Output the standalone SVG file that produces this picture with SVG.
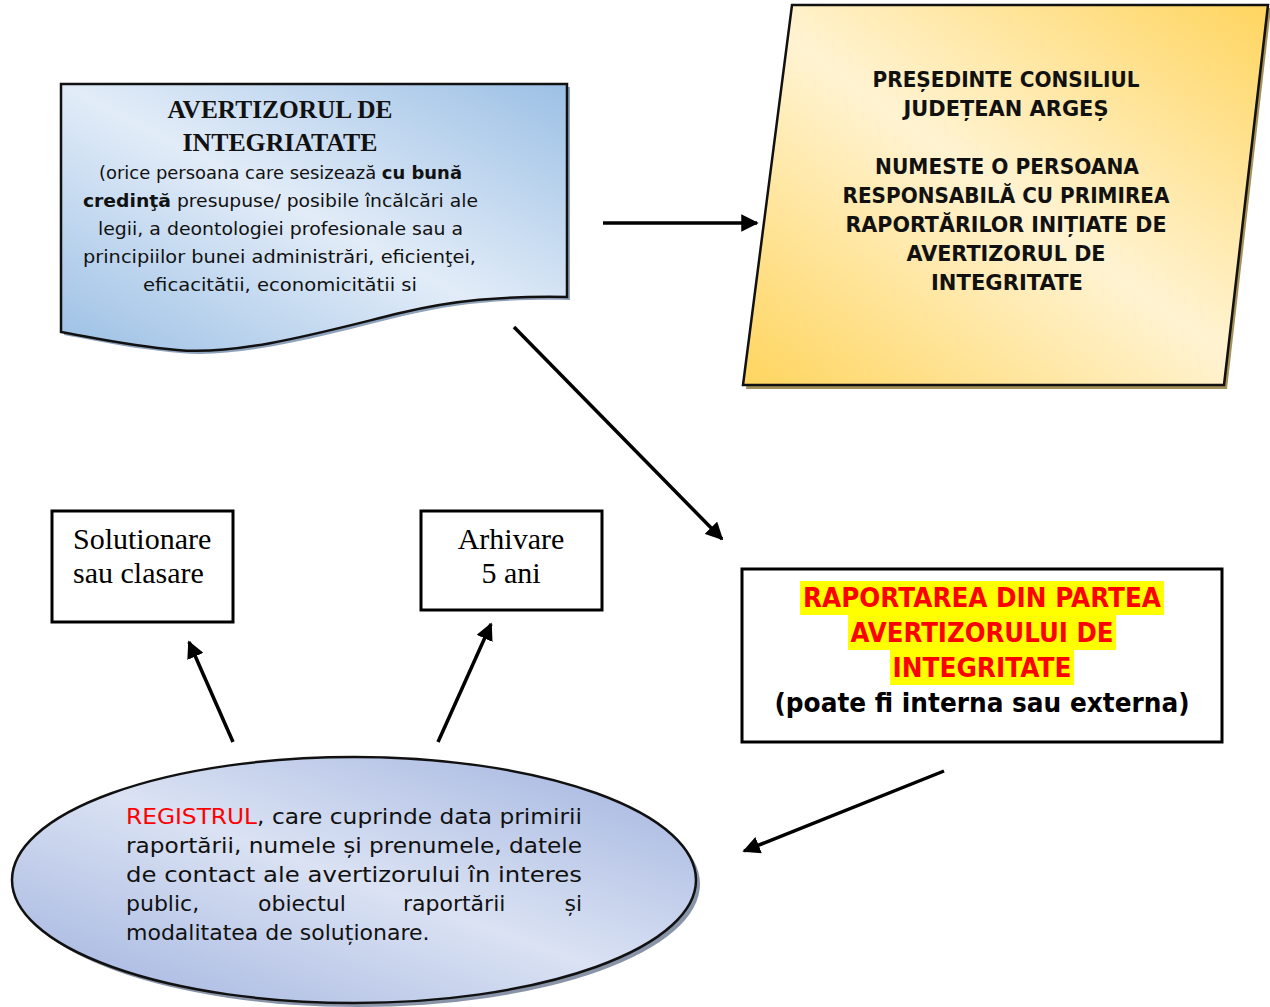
<svg xmlns="http://www.w3.org/2000/svg" width="1270" height="1007" viewBox="0 0 1270 1007">
<style>
.sans{font-family:"DejaVu Sans","Liberation Sans",sans-serif;}
.serif{font-family:"Liberation Serif","Times New Roman",serif;}
.edge{stroke:#111;stroke-width:2.5;}
.box{fill:#fff;stroke:#000;stroke-width:3;}
.conn{stroke:#000;stroke-width:3.5;fill:none;marker-end:url(#ah);}
</style>
<defs>
<marker id="ah" viewBox="0 0 10 10" refX="9" refY="5" markerWidth="5" markerHeight="5" markerUnits="strokeWidth" orient="auto">
<path d="M0,0 L10,5 L0,10 Z" fill="#000"/>
</marker>
<linearGradient id="gBlue" x1="1" y1="0" x2="0" y2="1">
<stop offset="0" stop-color="#9cc0e5"/>
<stop offset="0.5" stop-color="#e2ecf8"/>
<stop offset="1" stop-color="#9cc0e5"/>
</linearGradient>
<linearGradient id="gYel" x1="1" y1="0" x2="0" y2="1">
<stop offset="0" stop-color="#ffd55f"/>
<stop offset="0.5" stop-color="#fff3d2"/>
<stop offset="1" stop-color="#ffd55f"/>
</linearGradient>
<linearGradient id="gEll" x1="1" y1="0" x2="0" y2="1">
<stop offset="0" stop-color="#9fb1de"/>
<stop offset="0.5" stop-color="#dae2f3"/>
<stop offset="1" stop-color="#9fb1de"/>
</linearGradient>
<clipPath id="clipDoc">
<rect x="61" y="84" width="506" height="209"/>
</clipPath>
</defs>

<g id="avertizor">
<path d="M64,87 H570 V300 C503,299 458,303 403,316 C333,333 243,359 180,353 C133,349 98,341 64,335 Z" fill="#8fa3bd"/>
<path class="edge" d="M61,84 H567 V297 C500,296 455,300 400,313 C330,330 240,356 177,350 C130,346 95,338 61,332 Z" fill="url(#gBlue)"/>
<text class="serif" x="280" y="118" font-size="25.5" font-weight="bold" text-anchor="middle" fill="#111" textLength="225" lengthAdjust="spacingAndGlyphs">AVERTIZORUL DE</text>
<text class="serif" x="280" y="151" font-size="25.5" font-weight="bold" text-anchor="middle" fill="#111" textLength="195" lengthAdjust="spacingAndGlyphs">INTEGRIATATE</text>
<g class="sans" font-size="17" fill="#111" clip-path="url(#clipDoc)">
<text x="99" y="179" textLength="363" lengthAdjust="spacingAndGlyphs">(orice persoana care sesizează <tspan font-weight="bold">cu bună</tspan></text>
<text x="83" y="207" textLength="395" lengthAdjust="spacingAndGlyphs"><tspan font-weight="bold">credinţă</tspan> presupuse/ posibile încălcări ale</text>
<text x="98" y="235" textLength="365" lengthAdjust="spacingAndGlyphs">legii, a deontologiei profesionale sau a</text>
<text x="83" y="263" textLength="393" lengthAdjust="spacingAndGlyphs">principiilor bunei administrări, eficienţei,</text>
<text x="143" y="291" textLength="274" lengthAdjust="spacingAndGlyphs">eficacitătii, economicitătii si</text>
</g>
</g>

<g id="presedinte">
<path d="M792,8 H1271 L1227,389 H746 Z" fill="#a39158"/>
<path class="edge" d="M792,5 H1268 L1224,385 H743 Z" fill="url(#gYel)"/>
<g class="sans" font-size="21" font-weight="bold" fill="#111" text-anchor="middle">
<text x="1006" y="87" textLength="267" lengthAdjust="spacingAndGlyphs">PREȘEDINTE CONSILIUL</text>
<text x="1006" y="116" textLength="205" lengthAdjust="spacingAndGlyphs">JUDEȚEAN ARGEȘ</text>
<text x="1007" y="174" textLength="264" lengthAdjust="spacingAndGlyphs">NUMESTE O PERSOANA</text>
<text x="1006" y="203" textLength="327" lengthAdjust="spacingAndGlyphs">RESPONSABILĂ CU PRIMIREA</text>
<text x="1006" y="232" textLength="321" lengthAdjust="spacingAndGlyphs">RAPORTĂRILOR INIȚIATE DE</text>
<text x="1006" y="261" textLength="199" lengthAdjust="spacingAndGlyphs">AVERTIZORUL DE</text>
<text x="1007" y="290" textLength="152" lengthAdjust="spacingAndGlyphs">INTEGRITATE</text>
</g>
</g>

<g id="raportarea">
<rect class="box" x="742" y="569" width="480" height="173"/>
<rect x="800" y="581" width="364" height="34" fill="#ffff00"/>
<rect x="848" y="615" width="268" height="35" fill="#ffff00"/>
<rect x="890" y="650" width="184" height="35" fill="#ffff00"/>
<g class="sans" font-size="26" font-weight="bold" text-anchor="middle">
<text x="982" y="607" fill="#ff0000" textLength="358" lengthAdjust="spacingAndGlyphs">RAPORTAREA DIN PARTEA</text>
<text x="982" y="642" fill="#ff0000" textLength="263" lengthAdjust="spacingAndGlyphs">AVERTIZORULUI DE</text>
<text x="982" y="677" fill="#ff0000" textLength="179" lengthAdjust="spacingAndGlyphs">INTEGRITATE</text>
<text x="982" y="712" fill="#000" textLength="415" lengthAdjust="spacingAndGlyphs">(poate fi interna sau externa)</text>
</g>
</g>

<g id="solutionare">
<rect class="box" x="52" y="511" width="181" height="111"/>
<text class="serif" x="73" y="549" font-size="30" fill="#000">Solutionare</text>
<text class="serif" x="73" y="583" font-size="30" fill="#000">sau clasare</text>
</g>

<g id="arhivare">
<rect class="box" x="421" y="511" width="181" height="99"/>
<text class="serif" x="511" y="549" font-size="30" fill="#000" text-anchor="middle">Arhivare</text>
<text class="serif" x="511" y="583" font-size="30" fill="#000" text-anchor="middle">5 ani</text>
</g>

<g id="registrul">
<ellipse cx="358" cy="884" rx="342" ry="123" fill="#8a94a8"/>
<ellipse class="edge" cx="354" cy="880" rx="342" ry="123" fill="url(#gEll)"/>
<g class="sans" font-size="22" fill="#111">
<text x="126" y="824" textLength="456" lengthAdjust="spacingAndGlyphs"><tspan fill="#ff0000">REGISTRUL</tspan>, care cuprinde data primirii</text>
<text x="126" y="853" textLength="456" lengthAdjust="spacingAndGlyphs">raportării, numele și prenumele, datele</text>
<text x="126" y="882" textLength="456" lengthAdjust="spacingAndGlyphs">de contact ale avertizorului în interes</text>
<text x="126" y="911">public,</text>
<text x="258" y="911">obiectul</text>
<text x="403" y="911">raportării</text>
<text x="582" y="911" text-anchor="end">și</text>
<text x="126" y="940">modalitatea de soluționare.</text>
</g>
</g>

<g id="connectors">
<line class="conn" x1="603" y1="223" x2="757" y2="223"/>
<line class="conn" x1="514" y1="327" x2="722" y2="539"/>
<line class="conn" x1="944" y1="771" x2="744" y2="851"/>
<line class="conn" x1="233" y1="742" x2="189" y2="642"/>
<line class="conn" x1="438" y1="742" x2="491" y2="624"/>
</g>
</svg>
